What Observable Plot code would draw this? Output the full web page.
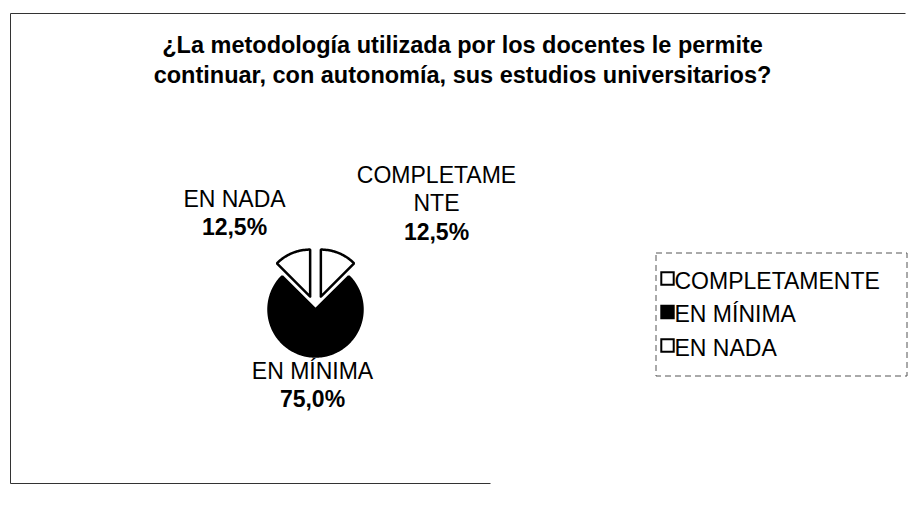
<!DOCTYPE html>
<html>
<head>
<meta charset="utf-8">
<script src="https://cdn.jsdelivr.net/npm/d3@7"></script>
<script src="https://cdn.jsdelivr.net/npm/@observablehq/plot@0.6"></script>
<style>
  html, body { margin: 0; padding: 0; background: #fff; }
  svg { display: block; }
</style>
</head>
<body>
<div id="chart"></div>
<script>
// ---- data ----
const titleLines = ["¿La metodología utilizada por los docentes le permite", "continuar, con autonomía, sus estudios universitarios?"];
const categories = ["COMPLETAMENTE", "EN MÍNIMA", "EN NADA"];
const values = [12.5, 75.0, 12.5];
const labelLines = [["COMPLETAME", "NTE"], ["EN MÍNIMA"], ["EN NADA"]];

// ---- styles / layout ----
const sliceFill = {"COMPLETAMENTE": "#ffffff", "EN MÍNIMA": "#000000", "EN NADA": "#ffffff"};
const explodeBy = {"COMPLETAMENTE": 14, "EN MÍNIMA": 0, "EN NADA": 14};
const W = 909, H = 511;
const cx = 315, cy = 309, R = 47;
const font = "Liberation Sans, Arial, Helvetica, sans-serif";
// label anchors relative to the pie centre: [dx, first baseline dy]
const labelPos = {"COMPLETAMENTE": [121, -127], "EN MÍNIMA": [-3, 69], "EN NADA": [-81, -103]};
const labelStep = 28.5;

// ---- pie geometry ----
const arcs = d3.pie().sort(null).value(d => d)(values);
const slicePts = [];
arcs.forEach((a, i) => {
  const cat = categories[i];
  const mid = (a.startAngle + a.endAngle) / 2;
  const ox = cx + explodeBy[cat] * Math.sin(mid);
  const oy = cy - explodeBy[cat] * Math.cos(mid);
  slicePts.push({cat, x: ox, y: oy});
  const n = Math.max(8, Math.ceil((a.endAngle - a.startAngle) / 0.03));
  for (let k = 0; k <= n; k++) {
    const t = a.startAngle + (a.endAngle - a.startAngle) * k / n;
    slicePts.push({cat, x: ox + R * Math.sin(t), y: oy - R * Math.cos(t)});
  }
  slicePts.push({cat, x: ox, y: oy});
});

// ---- labels ----
const fmtPct = v => d3.format(".1f")(v).replace(".", ",") + "%";
const nameRows = [], pctRows = [];
categories.forEach((cat, i) => {
  const [dx, dy] = labelPos[cat];
  labelLines[i].forEach((s, j) => nameRows.push({text: s, x: cx + dx, y: cy + dy + j * labelStep}));
  pctRows.push({text: fmtPct(values[i]), x: cx + dx, y: cy + dy + labelLines[i].length * labelStep});
});

// ---- title ----
const titleRows = titleLines.map((t, i) => ({text: t, x: 462, y: 52 + i * 30}));

// ---- legend ----
const legX = 656, legY = 253, legW = 251, legH = 123;
const legendRows = categories.map((c, i) => ({cat: c, x: 667, y: 278 + i * 33.5}));

// ---- border ----
const borderLines = [
  {x1: 10, y1: 13, x2: 10, y2: 483},
  {x1: 10, y1: 13, x2: 905, y2: 13},
  {x1: 10, y1: 483, x2: 490, y2: 483}
];

const chart = Plot.plot({
  width: W, height: H,
  margin: 0,
  x: {domain: [0, W], range: [0, W], axis: null},
  y: {domain: [0, H], range: [0, H], axis: null},
  style: {fontFamily: font, background: "#fff"},
  marks: [
    Plot.link(borderLines, {x1: "x1", y1: "y1", x2: "x2", y2: "y2", stroke: "#333", strokeWidth: 1}),
    Plot.text(titleRows, {x: "x", y: "y", text: "text", fontSize: 23.5, fontWeight: "bold", textAnchor: "middle", lineAnchor: "bottom", fill: "#000"}),
    Plot.line(slicePts, {x: "x", y: "y", z: "cat", fill: d => sliceFill[d.cat], stroke: "#000", strokeWidth: 2.5, curve: "linear", strokeLinejoin: "miter"}),
    Plot.text(nameRows, {x: "x", y: "y", text: "text", fontSize: 23, textAnchor: "middle", lineAnchor: "bottom", fill: "#000"}),
    Plot.text(pctRows, {x: "x", y: "y", text: "text", fontSize: 23, fontWeight: "bold", textAnchor: "middle", lineAnchor: "bottom", fill: "#000"}),
    Plot.rect([{x1: legX, x2: legX + legW, y1: legY, y2: legY + legH}], {x1: "x1", x2: "x2", y1: "y1", y2: "y2", fill: "none", stroke: "#555", strokeDasharray: "6,4", strokeWidth: 1}),
    Plot.dot(legendRows, {x: "x", y: "y", symbol: "square", r: 7, fill: d => sliceFill[d.cat], stroke: "#000", strokeWidth: 2}),
    Plot.text(legendRows, {x: d => d.x + 7, y: d => d.y + 10, text: "cat", fontSize: 23, textAnchor: "start", lineAnchor: "bottom", fill: "#000"})
  ]
});
document.getElementById("chart").appendChild(chart);
</script>
</body>
</html>
